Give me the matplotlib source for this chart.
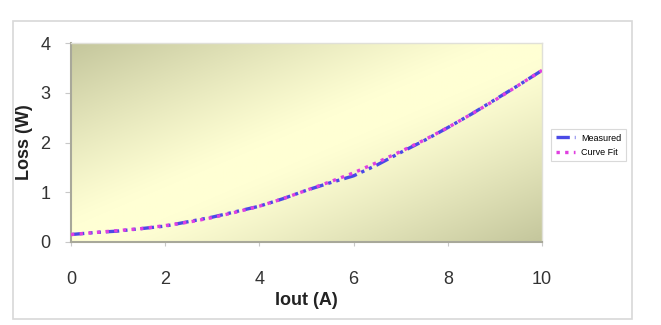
import matplotlib

matplotlib.use("Agg")
import matplotlib.pyplot as plt
import numpy as np
from matplotlib.patches import Rectangle

# data
iout = [0, 0.5, 1, 1.5, 2, 2.5, 3, 3.5, 4, 4.5, 5, 5.5, 6, 6.5, 7, 7.5, 8, 8.5, 9, 9.5, 10]
measured = [0.15, 0.19, 0.22, 0.27, 0.32, 0.41, 0.50, 0.61, 0.72, 0.87, 1.04, 1.19, 1.33,
            1.55, 1.80, 2.04, 2.30, 2.57, 2.86, 3.15, 3.45]
curve_fit = [0.15, 0.19, 0.23, 0.27, 0.33, 0.40, 0.49, 0.60, 0.72, 0.87, 1.04, 1.21, 1.39,
             1.60, 1.82, 2.05, 2.30, 2.57, 2.85, 3.15, 3.45]
x_ticks = [0, 2, 4, 6, 8, 10]
y_ticks = [0, 1, 2, 3, 4]

plt.rcParams["font.family"] = ["Liberation Sans", "DejaVu Sans"]

fig = plt.figure(figsize=(6.61, 3.25), dpi=100)
fig.patches.append(Rectangle((13 / 661, 1 - 319 / 325), 619 / 661, 298 / 325,
                             transform=fig.transFigure, fill=False,
                             edgecolor="#d8d8d8", linewidth=1.2))

ax = fig.add_axes([71 / 661, 1 - 242 / 325, 471 / 661, 199 / 325])

# diagonal gradient background: olive corners, pale yellow band
ny, nx = 200, 400
xn, yn = np.meshgrid(np.linspace(0, 1, nx), np.linspace(1, 0, ny))
u = np.clip(np.abs(xn - yn) - 0.08, 0, None) / 0.92
w = u ** 1.2
dark = np.array([196, 198, 156]) / 255
light = np.array([255, 255, 212]) / 255
img = light[None, None, :] * (1 - w[..., None]) + dark[None, None, :] * w[..., None]
ax.imshow(img, extent=[0, 10, 0, 4], aspect="auto", zorder=0, interpolation="bilinear")

ax.plot(iout, measured, color="#4a4ae6", linestyle=(0, (4, 1.5, 1, 1.5, 1, 1.5)),
        linewidth=2.4, label="Measured", zorder=2)
ax.plot(iout, curve_fit, color="#e040e0", linestyle=(0, (1, 1.6)),
        linewidth=2.4, label="Curve Fit", zorder=3)

ax.set_xlim(0, 10)
ax.set_ylim(0, 4)
ax.set_xticks(x_ticks)
ax.set_yticks(y_ticks)
ax.tick_params(axis="x", length=3, pad=18, labelsize=13, color="#c8c8c8", labelcolor="#333333")
ax.tick_params(axis="y", length=4, pad=11, labelsize=13, color="#c8c8c8", labelcolor="#333333")
for side in ("top", "right"):
    ax.spines[side].set_color("#e0e0d8")
    ax.spines[side].set_linewidth(1)
for side in ("left", "bottom"):
    ax.spines[side].set_color("#a8a89a")
    ax.spines[side].set_linewidth(1.5)

ax.set_xlabel("Iout (A)", fontsize=13, fontweight="bold", color="#222222")
ax.set_ylabel("Loss (W)", fontsize=13, fontweight="bold", color="#222222")
ax.xaxis.set_label_coords(0.5, (242 - 292) / 199)
ax.yaxis.set_label_coords((33 - 71) / 471, 0.5)

leg = fig.legend(loc="upper left", bbox_to_anchor=(551 / 661, 1 - 129 / 325),
                 fontsize=6.5, frameon=True, fancybox=False, handlelength=2.2,
                 borderpad=0.5, labelspacing=0.6, handletextpad=0.6, borderaxespad=0)
leg.get_frame().set_edgecolor("#d0d0d0")
leg.get_frame().set_linewidth(0.8)

fig.savefig("out.png", dpi=100)
